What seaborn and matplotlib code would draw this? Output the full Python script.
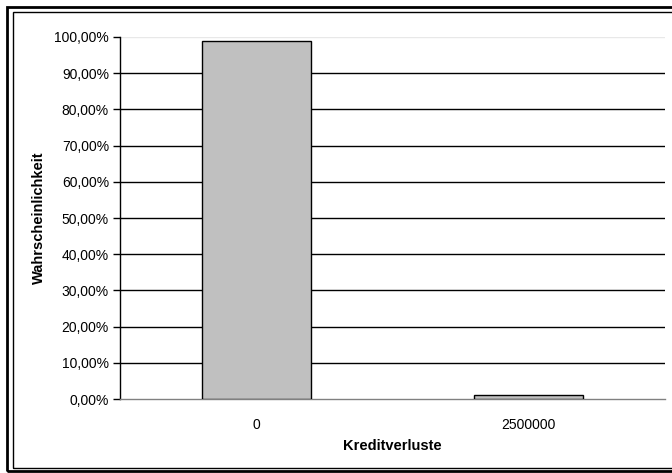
import matplotlib
matplotlib.use("Agg")
import matplotlib.pyplot as plt
from matplotlib.patches import Rectangle
from matplotlib.ticker import FuncFormatter, MultipleLocator
import seaborn as sns
import pandas as pd

# Verlustverteilung
kreditverluste = ["0", "2500000"]
wahrscheinlichkeit = [0.989, 0.011]

sns.set_theme(style="white")
plt.rcParams["font.family"] = ["Liberation Sans", "DejaVu Sans"]

W, H = 672, 473
fig = plt.figure(figsize=(W / 100, H / 100), dpi=100)
fig.patch.set_facecolor("white")
ax = fig.add_axes([120 / W, 1 - 399 / H, (665 - 120) / W, (399 - 37) / H])

df = pd.DataFrame({"Kreditverluste": kreditverluste,
                   "Wahrscheinlichkeit": wahrscheinlichkeit})
sns.barplot(data=df, x="Kreditverluste", y="Wahrscheinlichkeit", ax=ax,
            color="#C0C0C0", saturation=1, width=0.4,
            edgecolor="black", linewidth=1, zorder=3)

ax.set_xlim(-0.5, 1.5)
ax.set_ylim(0, 1.0)
ax.yaxis.set_major_locator(MultipleLocator(0.1))
ax.yaxis.set_major_formatter(
    FuncFormatter(lambda v, _: f"{v * 100:.2f}%".replace(".", ",")))

# horizontal grid lines (black), top line light gray
for v in [i / 10 for i in range(1, 10)]:
    ax.axhline(v, color="black", lw=1, zorder=1)
ax.axhline(1.0, color="#E8E8E8", lw=1, zorder=1)

for s in ["top", "right"]:
    ax.spines[s].set_visible(False)
ax.spines["left"].set_color("black")
ax.spines["left"].set_linewidth(1)
ax.spines["bottom"].set_color("#808080")
ax.spines["bottom"].set_linewidth(1)

ax.set_xticks([0, 1])
ax.set_xticklabels(kreditverluste)
ax.set_xticks([-0.5, 0.5, 1.5], minor=True)
ax.tick_params(axis="x", which="major", length=0, pad=14, labelsize=10,
               labelcolor="black")
ax.tick_params(axis="x", which="minor", length=5, width=1, color="black",
               direction="out")
ax.tick_params(axis="y", which="major", length=5, width=1, color="black",
               direction="out", left=True, labelsize=10, labelcolor="black",
               pad=3)

ax.set_xlabel("Kreditverluste", fontsize=10.5, fontweight="bold",
              color="black")
ax.set_ylabel("Wahrscheinlichkeit", fontsize=10.5, fontweight="bold",
              color="black")
ax.xaxis.set_label_coords((392 - 120) / (665 - 120), -(439 - 399) / (399 - 37))
ax.yaxis.set_label_coords(-(120 - 46) / (665 - 120), 0.5)

# doppelter Rahmen
fig.add_artist(Rectangle((7 / W, 1 - 471 / H), (W + 20) / W, (471 - 7) / H,
                         transform=fig.transFigure, fill=False,
                         edgecolor="black", lw=2))
fig.add_artist(Rectangle((12.5 / W, 1 - 468 / H), (W + 20) / W, (468 - 12.5) / H,
                         transform=fig.transFigure, fill=False,
                         edgecolor="black", lw=1))

fig.savefig("out.png", dpi=100, facecolor="white")
